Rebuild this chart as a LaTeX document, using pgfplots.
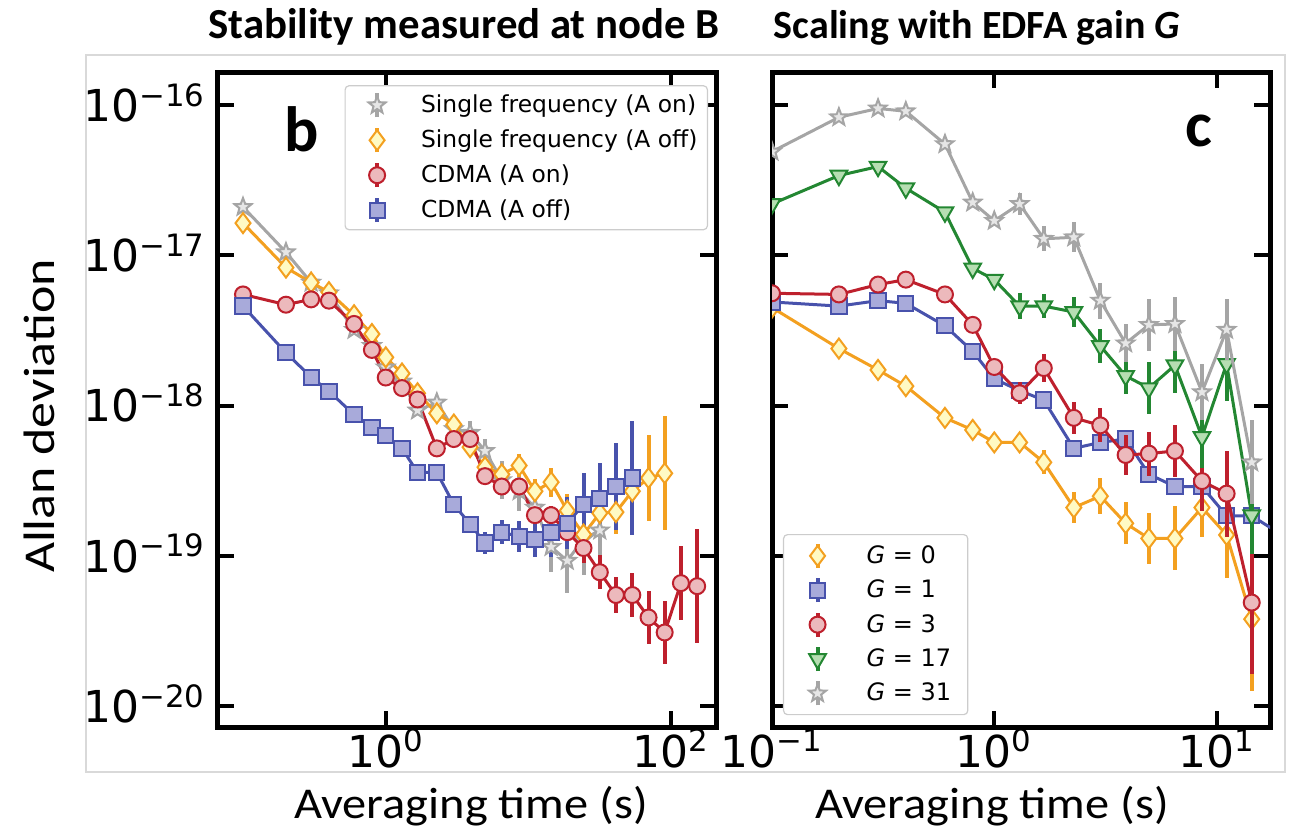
\documentclass[border=0pt]{standalone}
\usepackage{fontspec}
\setmainfont{DejaVu Sans}
\newfontfamily\carlito{Carlito}
\usepackage{pgfplots}
\usepackage{pgfplotstable}
\pgfplotsset{compat=1.18}

\definecolor{cgray}{RGB}{165,165,165}
\definecolor{cgrayf}{RGB}{230,230,230}
\definecolor{corange}{RGB}{243,160,32}
\definecolor{corangef}{RGB}{255,250,195}
\definecolor{cred}{RGB}{190,32,45}
\definecolor{credf}{RGB}{236,185,188}
\definecolor{cblue}{RGB}{72,82,172}
\definecolor{cbluef}{RGB}{168,170,218}
\definecolor{cgreen}{RGB}{35,135,50}
\definecolor{cgreenf}{RGB}{182,222,178}

% five-pointed filled star
\pgfdeclareplotmark{mstar}{%
  \pgfpathmoveto{\pgfpointpolar{90}{\pgfplotmarksize}}%
  \pgfpathlineto{\pgfpointpolar{126}{0.42\pgfplotmarksize}}%
  \pgfpathlineto{\pgfpointpolar{162}{\pgfplotmarksize}}%
  \pgfpathlineto{\pgfpointpolar{198}{0.42\pgfplotmarksize}}%
  \pgfpathlineto{\pgfpointpolar{234}{\pgfplotmarksize}}%
  \pgfpathlineto{\pgfpointpolar{270}{0.42\pgfplotmarksize}}%
  \pgfpathlineto{\pgfpointpolar{306}{\pgfplotmarksize}}%
  \pgfpathlineto{\pgfpointpolar{342}{0.42\pgfplotmarksize}}%
  \pgfpathlineto{\pgfpointpolar{18}{\pgfplotmarksize}}%
  \pgfpathlineto{\pgfpointpolar{54}{0.42\pgfplotmarksize}}%
  \pgfpathclose\pgfusepathqfillstroke}

% panel b: t = averaging time, v = Allan deviation, f = error factor
\pgfplotstableread{
t v f
0.1 2.1e-17 1
0.2 1.05e-17 1
0.3 6.6e-18 1
0.4 5.6e-18 1
0.6 3.2e-18 1
0.8 2.5e-18 1
1.0 1.8e-18 1
1.3 1.45e-18 1.05
1.67 9.3e-19 1.08
2.28 1.05e-18 1.1
3.0 7.0e-19 1.12
3.9 6.6e-19 1.2
4.96 5.0e-19 1.2
6.5 3.2e-19 1.34
8.6 2.7e-19 1.36
11.1 2.1e-19 1.4
14.4 1.15e-19 1.47
18.7 9.3e-20 1.63
24.3 1.3e-19 1.73
31.6 1.48e-19 2.0
}\bGray
\pgfplotstableread{
t v f
0.1 1.64e-17 1
0.2 8.3e-18 1
0.3 6.6e-18 1
0.4 5.7e-18 1
0.6 4.0e-18 1
0.8 3.0e-18 1
1.0 2.1e-18 1
1.3 1.64e-18 1
1.67 1.21e-18 1.05
2.28 8.9e-19 1.08
3.0 7.5e-19 1.1
3.9 5.3e-19 1.12
4.96 3.9e-19 1.15
6.5 3.5e-19 1.15
8.6 4.0e-19 1.2
11.1 2.7e-19 1.2
14.4 3.1e-19 1.25
18.7 2.0e-19 1.3
24.3 1.39e-19 1.3
31.6 1.93e-19 1.35
41 1.96e-19 1.4
53.4 2.7e-19 1.6
69.4 3.3e-19 1.93
90 3.55e-19 2.4
}\bOrange
\pgfplotstableread{
t v f
0.1 5.5e-18 1
0.2 4.7e-18 1
0.3 5.1e-18 1
0.4 5.0e-18 1
0.6 3.5e-18 1
0.8 2.35e-18 1
1.0 1.54e-18 1
1.3 1.31e-18 1
1.67 1.1e-18 1
2.28 5.2e-19 1.05
3.0 6.0e-19 1.05
3.9 6.0e-19 1.05
4.96 3.4e-19 1.08
6.5 2.9e-19 1.08
8.6 2.9e-19 1.1
11.1 1.87e-19 1.12
14.4 1.87e-19 1.15
18.7 1.44e-19 1.2
24.3 1.13e-19 1.25
31.6 7.8e-20 1.3
41 5.5e-20 1.32
53.4 5.5e-20 1.4
69.4 3.9e-20 1.49
90 3.1e-20 1.63
117 6.6e-20 1.76
152 6.3e-20 2.4
}\bRed
\pgfplotstableread{
t v f
0.1 4.6e-18 1
0.2 2.25e-18 1
0.3 1.55e-18 1
0.4 1.25e-18 1
0.6 8.7e-19 1
0.8 7.2e-19 1
1.0 6.3e-19 1
1.3 5.2e-19 1
1.67 3.6e-19 1
2.28 3.6e-19 1.05
3.0 2.2e-19 1.05
3.9 1.63e-19 1.08
4.96 1.22e-19 1.18
6.5 1.44e-19 1.2
8.6 1.35e-19 1.26
11.1 1.28e-19 1.3
14.4 1.44e-19 1.47
18.7 1.65e-19 1.49
24.3 2.2e-19 1.63
31.6 2.4e-19 1.73
41 2.9e-19 1.96
53.4 3.3e-19 2.4
}\bBlue

% panel c
\pgfplotstableread{
t v f
0.1 4.5e-18 1
0.2 2.4e-18 1
0.3 1.73e-18 1
0.4 1.35e-18 1
0.6 8.3e-19 1
0.8 6.9e-19 1
1.0 5.7e-19 1
1.3 5.7e-19 1.05
1.67 4.2e-19 1.2
2.28 2.1e-19 1.26
3.0 2.5e-19 1.32
3.9 1.65e-19 1.38
4.96 1.31e-19 1.47
6.5 1.31e-19 1.63
8.6 2.1e-19 1.56
11.1 1.38e-19 1.93
14.4 3.8e-20 3.0
}\cZero
\pgfplotstableread{
t v f
0.1 4.9e-18 1
0.2 4.6e-18 1
0.3 5.0e-18 1
0.4 4.8e-18 1
0.6 3.4e-18 1
0.8 2.3e-18 1
1.0 1.51e-18 1
1.3 1.26e-18 1.05
1.67 1.09e-18 1.05
2.28 5.2e-19 1.05
3.0 5.7e-19 1.08
3.9 6.0e-19 1.1
4.96 3.5e-19 1.1
6.5 2.9e-19 1.1
8.6 2.9e-19 1.12
11.1 1.85e-19 1.15
14.4 1.85e-19 1.15
18.7 1.45e-19 1.2
}\cOne
\pgfplotstableread{
t v f
0.1 5.6e-18 1
0.2 5.5e-18 1
0.3 6.4e-18 1
0.4 6.9e-18 1
0.6 5.5e-18 1
0.8 3.45e-18 1
1.0 1.81e-18 1.05
1.3 1.21e-18 1.18
1.67 1.78e-18 1.24
2.28 8.3e-19 1.28
3.0 7.4e-19 1.3
3.9 4.7e-19 1.36
4.96 4.8e-19 1.4
6.5 5.0e-19 1.49
8.6 3.15e-19 1.58
11.1 2.6e-19 1.93
14.4 4.9e-20 3.0
}\cThree
\pgfplotstableread{
t v f
0.1 2.2e-17 1
0.2 3.4e-17 1
0.3 3.9e-17 1
0.4 2.8e-17 1
0.6 1.94e-17 1
0.8 8.2e-18 1
1.0 6.9e-18 1.05
1.3 4.6e-18 1.22
1.67 4.6e-18 1.2
2.28 4.2e-18 1.26
3.0 2.5e-18 1.3
3.9 1.58e-18 1.32
4.96 1.31e-18 1.49
6.5 1.86e-18 1.54
8.6 6.2e-19 1.6
11.1 1.9e-18 1.76
14.4 1.87e-19 1.8
}\cSeventeen
\pgfplotstableread{
t v f
0.1 4.9e-17 1
0.2 8.3e-17 1
0.3 9.5e-17 1
0.4 9.1e-17 1
0.6 5.5e-17 1
0.8 2.25e-17 1.05
1.0 1.7e-17 1.08
1.3 2.2e-17 1.18
1.67 1.29e-17 1.21
2.28 1.32e-17 1.26
3.0 5.0e-18 1.32
3.9 2.6e-18 1.34
4.96 3.45e-18 1.49
6.5 3.5e-18 1.51
8.6 1.23e-18 1.54
11.1 3.2e-18 1.6
14.4 4.2e-19 1.9
}\cThirtyOne

\begin{document}
\begin{tikzpicture}
\path[use as bounding box] (-109pt,-51.5pt) rectangle (536.5pt,363.5pt);
\draw[black!15, line width=0.75pt] (-66pt,-22.5pt) rectangle (533.5pt,336pt);

\begin{axis}[at={(0pt,0pt)}, anchor=south west,
  scale only axis, width=249pt, height=327.5pt,
  xmode=log, ymode=log, xminorticks=false, yminorticks=false,
  xmin=0.0668, xmax=206, ymin=7.28e-21, ymax=1.66e-16,
  ytick={1e-20,1e-19,1e-18,1e-17,1e-16},
  tick align=inside, major tick length=8pt,
  tick style={line width=2pt, black},
  axis line style={line width=2.5pt},
  ticklabel style={font=\fontsize{22}{25}\selectfont},
  yticklabel style={anchor=base east, inner xsep=0pt, xshift=-6pt, yshift=-8pt},
  xticklabel style={anchor=base, yshift=-20pt},
  xtick={1,100}, xticklabels={10\textsuperscript{0},10\textsuperscript{2}},
  yticklabels={10\textsuperscript{−20},10\textsuperscript{−19},10\textsuperscript{−18},10\textsuperscript{−17},10\textsuperscript{−16}},
  legend cell align=left,
  legend style={at={(0.984,0.980)}, anchor=north east, draw=black!20, line width=0.6pt,
    rounded corners=2pt, fill=white, inner xsep=5pt, inner ysep=1pt, row sep=0pt, column sep=0pt,
    font=\fontsize{11.7}{14}\selectfont, nodes={inner sep=0pt}},
  legend image code/.code={\path[draw=none, fill=none] (-11pt,-8.75pt) rectangle (22pt,8.75pt);
    \draw[line width=2pt, mark=none] (0pt,-6pt) -- (0pt,6pt);
    \draw plot coordinates {(0pt,0pt)};},
]
\addplot[color=cgray, line width=1.5pt, mark=mstar, mark size=4.5pt, mark options={fill=cgrayf, line width=1pt, solid},
  error bars/.cd, y dir=both, y explicit, error mark=none, error bar style={line width=2pt, color=cgray}]
  table[x=t, y=v, y error plus expr=\thisrow{v}*(\thisrow{f}-1), y error minus expr=\thisrow{v}*(1-1/\thisrow{f})] {\bGray};
\addlegendentry{Single frequency (A on)}
\addplot[color=corange, line width=1.5pt, mark=diamond*, mark size=5pt, mark options={fill=corangef, line width=1pt, solid},
  error bars/.cd, y dir=both, y explicit, error mark=none, error bar style={line width=2pt, color=corange}]
  table[x=t, y=v, y error plus expr=\thisrow{v}*(\thisrow{f}-1), y error minus expr=\thisrow{v}*(1-1/\thisrow{f})] {\bOrange};
\addlegendentry{Single frequency (A off)}
\addplot[color=cred, line width=1.5pt, mark=*, mark size=4pt, mark options={fill=credf, line width=1pt, solid},
  error bars/.cd, y dir=both, y explicit, error mark=none, error bar style={line width=2pt, color=cred}]
  table[x=t, y=v, y error plus expr=\thisrow{v}*(\thisrow{f}-1), y error minus expr=\thisrow{v}*(1-1/\thisrow{f})] {\bRed};
\addlegendentry{CDMA (A on)}
\addplot[color=cblue, line width=1.5pt, mark=square*, mark size=3.8pt, mark options={fill=cbluef, line width=1pt, solid},
  error bars/.cd, y dir=both, y explicit, error mark=none, error bar style={line width=2pt, color=cblue}]
  table[x=t, y=v, y error plus expr=\thisrow{v}*(\thisrow{f}-1), y error minus expr=\thisrow{v}*(1-1/\thisrow{f})] {\bBlue};
\addlegendentry{CDMA (A off)}
\end{axis}

\begin{axis}[at={(277pt,0pt)}, anchor=south west,
  scale only axis, width=249pt, height=327.5pt,
  xmode=log, ymode=log, xminorticks=false, yminorticks=false,
  xmin=0.1, xmax=17.4, ymin=7.28e-21, ymax=1.66e-16,
  clip marker paths=true,
  ytick={1e-20,1e-19,1e-18,1e-17,1e-16}, yticklabels={},
  tick align=inside, major tick length=8pt,
  tick style={line width=2pt, black},
  axis line style={line width=2.5pt},
  ticklabel style={font=\fontsize{22}{25}\selectfont},
  xticklabel style={anchor=base, yshift=-20pt},
  xtick={0.1,1,10}, xticklabels={10\textsuperscript{−1},10\textsuperscript{0},10\textsuperscript{1}},
  legend cell align=left,
  legend style={at={(0.022,0.018)}, anchor=south west, draw=black!20, line width=0.6pt,
    rounded corners=2pt, fill=white, inner xsep=5pt, inner ysep=2pt, row sep=0pt, column sep=0pt,
    font=\fontsize{12}{14}\selectfont, nodes={inner sep=0pt}},
  legend image code/.code={\path[draw=none, fill=none] (-12pt,-8.6pt) rectangle (24.5pt,8.6pt);
    \draw[line width=2pt, mark=none] (0pt,-6pt) -- (0pt,6pt);
    \draw plot coordinates {(0pt,0pt)};},
]
\addplot[color=corange, line width=1.5pt, mark=diamond*, mark size=5pt, mark options={fill=corangef, line width=1pt, solid},
  error bars/.cd, y dir=both, y explicit, error mark=none, error bar style={line width=2pt, color=corange}]
  table[x=t, y=v, y error plus expr=\thisrow{v}*(\thisrow{f}-1), y error minus expr=\thisrow{v}*(1-1/\thisrow{f})] {\cZero};
\addlegendentry{\textit{G} = 0\hspace*{11pt}}
\addplot[color=cblue, line width=1.5pt, mark=square*, mark size=3.8pt, mark options={fill=cbluef, line width=1pt, solid},
  error bars/.cd, y dir=both, y explicit, error mark=none, error bar style={line width=2pt, color=cblue}]
  table[x=t, y=v, y error plus expr=\thisrow{v}*(\thisrow{f}-1), y error minus expr=\thisrow{v}*(1-1/\thisrow{f})] {\cOne};
\addlegendentry{\textit{G} = 1}
\addplot[color=cred, line width=1.5pt, mark=*, mark size=4pt, mark options={fill=credf, line width=1pt, solid},
  error bars/.cd, y dir=both, y explicit, error mark=none, error bar style={line width=2pt, color=cred}]
  table[x=t, y=v, y error plus expr=\thisrow{v}*(\thisrow{f}-1), y error minus expr=\thisrow{v}*(1-1/\thisrow{f})] {\cThree};
\addlegendentry{\textit{G} = 3}
\addplot[color=cgreen, line width=1.5pt, mark=triangle*, mark size=4.8pt, mark options={fill=cgreenf, line width=1pt, solid, rotate=180},
  error bars/.cd, y dir=both, y explicit, error mark=none, error bar style={line width=2pt, color=cgreen}]
  table[x=t, y=v, y error plus expr=\thisrow{v}*(\thisrow{f}-1), y error minus expr=\thisrow{v}*(1-1/\thisrow{f})] {\cSeventeen};
\addlegendentry{\textit{G} = 17}
\addplot[color=cgray, line width=1.5pt, mark=mstar, mark size=4.5pt, mark options={fill=cgrayf, line width=1pt, solid},
  error bars/.cd, y dir=both, y explicit, error mark=none, error bar style={line width=2pt, color=cgray}]
  table[x=t, y=v, y error plus expr=\thisrow{v}*(\thisrow{f}-1), y error minus expr=\thisrow{v}*(1-1/\thisrow{f})] {\cThirtyOne};
\addlegendentry{\textit{G} = 31}
\end{axis}

\node[anchor=base, font=\carlito\bfseries\fontsize{21.4}{24}\selectfont] at (123pt,344pt) {Stability measured at node B};
\node[anchor=base, font=\carlito\bfseries\fontsize{20}{24}\selectfont] at (379.5pt,344pt) {Scaling with EDFA gain \textit{G}};
\node[anchor=base, font=\carlito\fontsize{22}{25}\selectfont] at (126.5pt,-45.5pt) {\scalebox{1.1}[1]{Averaging time (s)}};
\node[anchor=base, font=\carlito\fontsize{22}{25}\selectfont] at (387pt,-45.5pt) {\scalebox{1.1}[1]{Averaging time (s)}};
\node[rotate=90, font=\carlito\fontsize{22}{25}\selectfont] at (-89.5pt,155.5pt) {\scalebox{1.18}[1]{Allan deviation}};
\node[anchor=base west, inner sep=0pt, font=\carlito\bfseries\fontsize{32}{36}\selectfont] at (33pt,287.5pt) {b};
\node[anchor=base west, inner sep=0pt, font=\carlito\bfseries\fontsize{32}{36}\selectfont] at (483.5pt,290pt) {c};
\end{tikzpicture}
\end{document}
